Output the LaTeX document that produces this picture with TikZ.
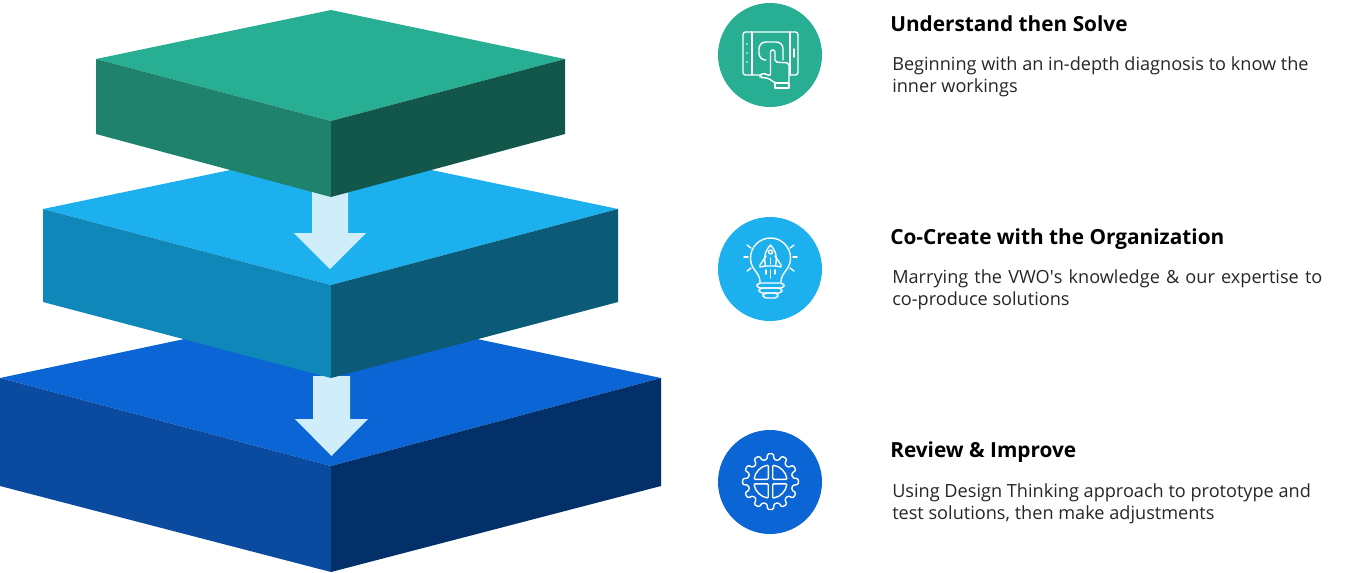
\documentclass[tikz,border=0pt]{standalone}
\usepackage{fontspec}
\setmainfont{Open Sans}
\usepackage{tikz}
\definecolor{greentop}{HTML}{28AE93}
\definecolor{greenleft}{HTML}{1E826C}
\definecolor{greenright}{HTML}{12574A}
\definecolor{cyantop}{HTML}{1DB0EE}
\definecolor{cyanleft}{HTML}{0F88B9}
\definecolor{cyanright}{HTML}{0A5A78}
\definecolor{bluetop}{HTML}{0B65D4}
\definecolor{blueleft}{HTML}{0A4BA0}
\definecolor{blueright}{HTML}{033068}
\definecolor{paleblue}{HTML}{D0EEFA}
\definecolor{bodyink}{HTML}{262626}
\begin{document}
\begin{tikzpicture}[x=0.75pt,y=-0.75pt,
    headtext/.style={anchor=base west,inner sep=0pt,font=\fontsize{15.6}{19}\selectfont\bfseries,text=black},
    bodytext/.style={anchor=north west,inner sep=0pt,align=left,font=\fontsize{13.6}{17}\selectfont,text=bodyink},
    icondisc/.style={circle,minimum size=78pt,inner sep=0pt},
    iconline/.style={draw=white,line width=1.05pt,line cap=round,line join=round},
    downarrow/.style={fill=paleblue}]
    \useasboundingbox (0,0) rectangle (1350,572);

    \fill [bluetop] (331,308) -- (661,378) -- (331,466) -- (0,378) -- cycle;
    \fill [blueleft] (0,378) -- (331,466) -- (331,572) -- (0,486) -- cycle;
    \fill [blueright] (331,466) -- (661,378) -- (661,486) -- (331,572) -- cycle;
    \fill [downarrow] (313,376) -- (350,376) -- (350,419) -- (368,419) -- (331.5,456) -- (295,419) -- (313,419) -- cycle;

    \fill [cyantop] (331,149) -- (618,209) -- (331,285) -- (43,209) -- cycle;
    \fill [cyanleft] (43,209) -- (331,285) -- (331,378) -- (43,302) -- cycle;
    \fill [cyanright] (331,285) -- (618,209) -- (618,302) -- (331,378) -- cycle;
    \fill [downarrow] (312,190) -- (348,190) -- (348,233) -- (366,233) -- (330,269) -- (294,233) -- (312,233) -- cycle;

    \fill [greentop] (331,10) -- (565,59) -- (331,121) -- (96,59) -- cycle;
    \fill [greenleft] (96,59) -- (331,121) -- (331,197) -- (96,134) -- cycle;
    \fill [greenright] (331,121) -- (565,59) -- (565,134) -- (331,197) -- cycle;

    \node [icondisc,fill=greentop] (solve) at (770,55) {};
    \node [icondisc,fill=cyantop] (create) at (770,269) {};
    \node [icondisc,fill=bluetop] (improve) at (770,482) {};

    \draw [iconline,rounded corners=2] (743,32) rectangle (798,75);
    \draw [iconline] (752,32) -- (752,75);
    \draw [iconline] (790,32) -- (790,75);
    \foreach \y in {44,53,62} {\fill [white] (747,\y) circle (0.9);}
    \draw [iconline] (794,49) -- (794,57);
    \draw [iconline,rounded corners=5] (766,60) -- (759,60) -- (759,42) -- (783,42) -- (783,60);
    \draw [iconline,fill=greentop,rounded corners=1.5] (770.5,76) -- (770.5,50) -- (775,50) -- (775,62) -- (789,63) -- (789,83) -- (775,83) -- (768,78) -- (760,77.5) -- (760,75) -- (763,73) -- cycle;
    \draw [iconline] (775,83) rectangle (789,88);

    \draw [iconline] (760,282) .. controls (760,272) and (750.5,270) .. (750.5,258) arc [start angle=180,end angle=360,radius=20] .. controls (790.5,270) and (781,272) .. (781,282);
    \draw [iconline,rounded corners=2.5] (757,283) rectangle (784,288);
    \draw [iconline,rounded corners=2.5] (759,288) rectangle (782,293);
    \draw [iconline,rounded corners=2.5] (763,293) rectangle (778,298);
    \draw [iconline] (744,257) -- (748,257);
    \draw [iconline] (793,257) -- (797,257);
    \draw [iconline] (747,245) -- (751,248);
    \draw [iconline] (794,245) -- (790,248);
    \draw [iconline] (747,271) -- (751,268);
    \draw [iconline] (794,271) -- (790,268);
    \draw [iconline] (765.5,266) .. controls (763,254) and (767,249) .. (770.5,245) .. controls (774,249) and (778,254) .. (775.5,266) -- cycle;
    \draw [iconline] (766,256) -- (760,265) -- (760,267) -- (765.5,266);
    \draw [iconline] (775,256) -- (781,265) -- (781,267) -- (775.5,266);
    \draw [iconline] (770.5,252) circle (2);
    \draw [iconline] (770.5,258) -- (770.5,264);
    \draw [iconline] (766,270) -- (766,274);
    \draw [iconline] (770.5,270) -- (770.5,278);
    \draw [iconline] (775,270) -- (775,274);

    \begin{scope}[shift={(770.5,481.6)}]
        \draw [iconline,rounded corners=1] (-9:22.5) \foreach \a in {0,30,...,330} {-- (\a-9:22.5) -- (\a-6:28) -- (\a+6:28) -- (\a+9:22.5)} -- cycle;
        \foreach \r in {0,90,180,270} {
            \draw [iconline,rotate=\r,rounded corners=0.8] (2.2,2.2) -- (2.2,16.5) arc [start angle=82,end angle=8,radius=16.7] -- cycle;
        }
    \end{scope}

    \node [headtext] (solvehead) at (890,31) {Understand then Solve};
    \node [bodytext] (solvebody) at (892,56) {Beginning with an in-depth diagnosis to know the\\inner workings};
    \node [headtext] (createhead) at (890,244) {Co-Create with the Organization};
    \node [bodytext] (createbody) at (892,269) {\spaceskip=4.6pt\relax Marrying the VWO\textquotesingle s knowledge \& our expertise to\\co-produce solutions};
    \node [headtext] (improvehead) at (890,457) {Review \& Improve};
    \node [bodytext] (improvebody) at (892,483) {Using Design Thinking approach to prototype and\\test solutions, then make adjustments};
\end{tikzpicture}
\end{document}
